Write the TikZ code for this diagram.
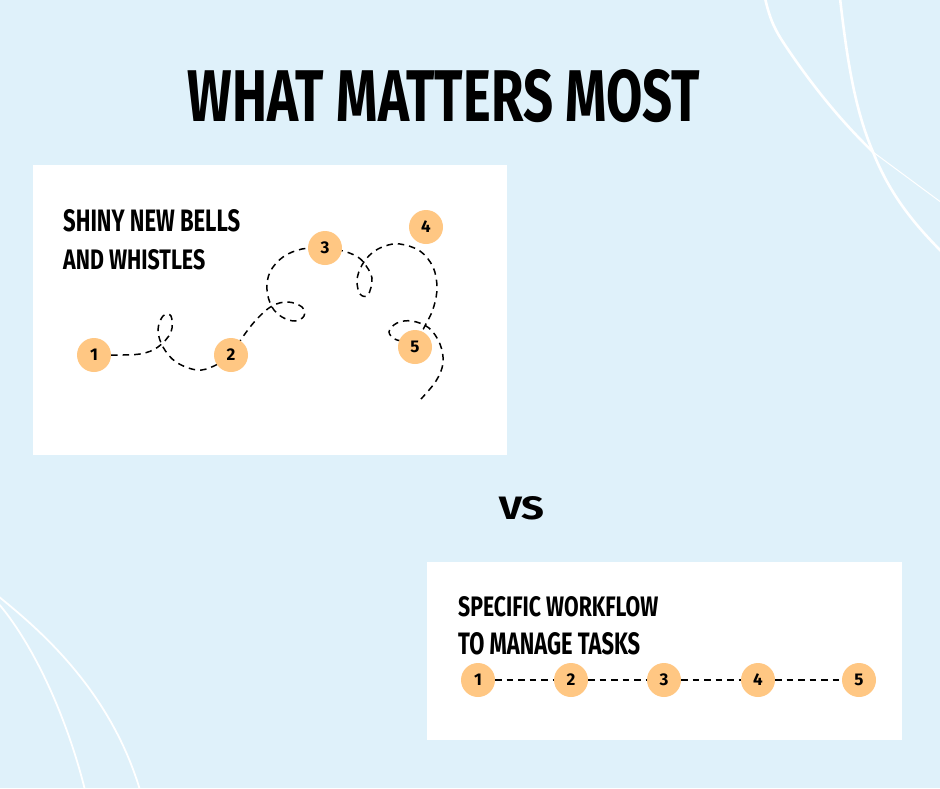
\documentclass[tikz,border=0pt]{standalone}
\usepackage{fontspec}
\setmainfont{Fira Sans}
\usepackage{graphicx}
\definecolor{bgblue}{RGB}{223,241,250}
\definecolor{blobc}{RGB}{255,199,131}
\newcommand{\fitbox}[3]{\resizebox{#1pt}{#2pt}{#3}}
\pgfdeclarelayer{back}
\pgfdeclarelayer{lines}
\pgfsetlayers{back,lines,main}
\begin{document}
\begin{tikzpicture}[x=1pt,y=-1pt,
  blob/.style={circle, fill=blobc, minimum size=34pt, inner sep=0pt, font=\fontsize{17}{17}\selectfont\bfseries},
  dashline/.style={draw=black, line width=1.5pt, dash pattern=on 6.5pt off 5pt},
  cardbox/.style={fill=white, draw=none},
  corner/.style={draw=white, line width=2.6pt, line cap=round},
  cornerthin/.style={draw=white, line width=1.8pt},
  label/.style={anchor=center, inner sep=0pt}]
\useasboundingbox (0,0) rectangle (940,788);
\begin{pgfonlayer}{back}
  \fill[bgblue] (0,0) rectangle (940,788);
  % corner decorations
  \draw[corner] (765,-2) .. controls (770,20) and (775,30) .. (785,45)
     .. controls (815,90) and (845,125) .. (873,152);
  \draw[draw=white, line width=1pt] (873,152) -- (942,203);
  \draw[corner] (840,-2) .. controls (847,60) and (855,110) .. (873,152)
     .. controls (890,195) and (915,225) .. (942,252);
  \draw[cornerthin] (-2,596) .. controls (40,630) and (110,690) .. (140,790);
  \draw[cornerthin] (-2,603) .. controls (30,640) and (65,710) .. (85,790);
  % cards
  \fill[cardbox] (33,165) rectangle (507,455);
  \fill[cardbox] (427,562) rectangle (902,740);
\end{pgfonlayer}

% title and labels
\node[label] (title) at (444,96) {\fitbox{512}{52}{\bfseries WHAT MATTERS MOST}};
\node[label] (vs) at (522,508) {\fitbox{45}{23}{\bfseries VS}};
\node[label, anchor=west] (t1a) at (63,221) {\fitbox{177}{22}{\bfseries SHINY NEW BELLS}};
\node[label, anchor=west] (t1b) at (63,260) {\fitbox{142}{20}{\bfseries AND WHISTLES}};
\node[label, anchor=west] (t2a) at (458,607) {\fitbox{200}{20}{\bfseries SPECIFIC WORKFLOW}};
\node[label, anchor=west] (t2b) at (458,644) {\fitbox{182}{22}{\bfseries TO MANAGE TASKS}};

% messy path circles
\node[blob] (a1) at (94,355) {1};
\node[blob] (a2) at (231,355) {2};
\node[blob] (a3) at (325,248) {3};
\node[blob] (a4) at (426,227) {4};
\node[blob] (a5) at (415,347) {5};
\coordinate (aend) at (421,399);

% straight path circles
\node[blob] (b1) at (478,680) {1};
\node[blob] (b2) at (571,680) {2};
\node[blob] (b3) at (664,680) {3};
\node[blob] (b4) at (758,680) {4};
\node[blob] (b5) at (859,680) {5};

\begin{pgfonlayer}{lines}
  \draw[dashline] plot[smooth, tension=0.6] coordinates {
    (a1.east) (140,354) (158,347) (171,332) (171,316) (163,316) (158,330) (163,347)
    (176,362) (197,370) (214,366) (a2.center)};
  \draw[dashline] plot[smooth, tension=0.6] coordinates {
    (a2.center) (242,338) (256,320) (272,306) (288,302) (302,307) (304,316) (295,321)
    (282,317) (272,307) (267,290) (270,272) (283,257) (302,249) (a3.center)};
  \draw[dashline] plot[smooth, tension=0.6] coordinates {
    (a3.center) (343,251) (356,256) (364,263) (372,278) (368,295) (360,294) (357,280)
    (362,265) (372,253) (385,246) (400,244) (420,251) (433,267) (437,287) (434,306)
    (427,322) (415,340) (397,340) (389,332) (397,323) (412,321) (429,328) (440,344)
    (443,363) (436,381) (aend)};
  \draw[dashline] (b1) -- (b2);
  \draw[dashline] (b2) -- (b3);
  \draw[dashline] (b3) -- (b4);
  \draw[dashline] (b4) -- (b5);
\end{pgfonlayer}
\end{tikzpicture}
\end{document}
